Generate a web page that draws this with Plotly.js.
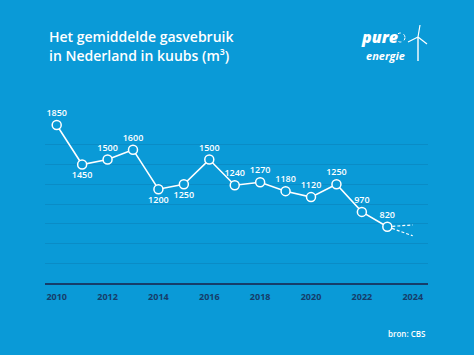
<!DOCTYPE html>
<html>
<head>
<meta charset="utf-8">
<script src="https://cdn.plot.ly/plotly-3.0.1.min.js"></script>
<style>
html,body{margin:0;padding:0;background:#0a9ad7;}
#chart{width:474px;height:355px;}
</style>
</head>
<body>
<div id="chart"></div>
<script>
// Data
const years = [2010, 2011, 2012, 2013, 2014, 2015, 2016, 2017, 2018, 2019, 2020, 2021, 2022, 2023];
const usage = [1850, 1450, 1500, 1600, 1200, 1250, 1500, 1240, 1270, 1180, 1120, 1250, 970, 820];
const labelPos = ['top center','bottom center','top center','top center','bottom center','bottom center','top center','top center','top center','top center','top center','top center','top center','top center'];
const forecastYears = [2023, 2024];
const forecastHigh = [820, 838];
const forecastLow = [820, 728];
const tickYears = [2010, 2012, 2014, 2016, 2018, 2020, 2022, 2024];
const titleLines = ['Het gemiddelde gasvebruik', 'in Nederland in kuubs (m³)'];
const sourceText = 'bron: CBS';

const BG = '#0a9ad7';
const NAVY = '#163d6a';
const GRID = '#0a8cc6';
const FONT = 'Open Sans, sans-serif';

// plot area in pixels
const L = 45, R = 428, T = 125, B = 283;
const W = 474, H = 355;
const px = x => (x - L) / (R - L);
const py = y => (B - y) / (B - T);

const main = {
  x: years, y: usage, type: 'scatter', mode: 'lines+markers+text',
  text: usage.map(String), textposition: labelPos,
  textfont: {family: FONT, size: 9, color: '#ffffff', weight: 600},
  line: {color: '#ffffff', width: 1.6},
  marker: {symbol: 'circle', size: 9, color: BG, line: {color: '#ffffff', width: 1.5}},
  cliponaxis: false, hoverinfo: 'skip'
};
const fHigh = {
  x: forecastYears, y: forecastHigh, type: 'scatter', mode: 'lines',
  line: {color: '#ffffff', width: 1.2, dash: '3px,2px'}, cliponaxis: false, hoverinfo: 'skip'
};
const fLow = {
  x: forecastYears, y: forecastLow, type: 'scatter', mode: 'lines',
  line: {color: '#ffffff', width: 1.2, dash: '3px,2px'}, cliponaxis: false, hoverinfo: 'skip'
};

const annotations = [
  {text: titleLines[0], x: px(47), y: py(36), xref: 'paper', yref: 'paper', xanchor: 'left', yanchor: 'middle', showarrow: false,
   font: {family: FONT, size: 14, color: '#ffffff', weight: 600}},
  {text: titleLines[1], x: px(47), y: py(55), xref: 'paper', yref: 'paper', xanchor: 'left', yanchor: 'middle', showarrow: false,
   font: {family: FONT, size: 14, color: '#ffffff', weight: 600}},
  {text: '<i>pure</i>', x: px(359), y: py(37), xref: 'paper', yref: 'paper', xanchor: 'left', yanchor: 'middle', showarrow: false,
   font: {family: FONT, size: 16, color: '#ffffff', weight: 800}},
  {text: '<i>energie</i>', x: px(364), y: py(56), xref: 'paper', yref: 'paper', xanchor: 'left', yanchor: 'middle', showarrow: false,
   font: {family: FONT, size: 11, color: '#ffffff', weight: 700}},
  {text: sourceText, x: px(428), y: py(333), xref: 'paper', yref: 'paper', xanchor: 'right', yanchor: 'middle', showarrow: false,
   font: {family: FONT, size: 8, color: '#ffffff', weight: 600}}
];

// logo icon: sun + wind turbine
const shapes = [
  {type: 'circle', xref: 'paper', yref: 'paper', x0: px(396), x1: px(405), y0: py(42), y1: py(33),
   line: {color: '#ffffff', width: 1, dash: 'dot'}},
  {type: 'line', xref: 'paper', yref: 'paper', x0: px(418), x1: px(418), y0: py(37), y1: py(61), line: {color: '#ffffff', width: 1.4}},
  {type: 'line', xref: 'paper', yref: 'paper', x0: px(418), x1: px(420), y0: py(37), y1: py(25), line: {color: '#ffffff', width: 1.2}},
  {type: 'line', xref: 'paper', yref: 'paper', x0: px(418), x1: px(408), y0: py(37), y1: py(42), line: {color: '#ffffff', width: 1.2}},
  {type: 'line', xref: 'paper', yref: 'paper', x0: px(418), x1: px(427), y0: py(37), y1: py(44), line: {color: '#ffffff', width: 1.2}}
];

const layout = {
  width: W, height: H,
  margin: {l: L, r: W - R, t: T, b: H - B, pad: 0},
  paper_bgcolor: BG, plot_bgcolor: BG,
  showlegend: false,
  font: {family: FONT, color: '#ffffff'},
  xaxis: {
    range: [2009.54, 2024.6], tickvals: tickYears, ticktext: tickYears.map(String),
    showgrid: false, zeroline: false, showline: true, linecolor: NAVY, linewidth: 2,
    ticks: '', ticklabelstandoff: 4,
    tickfont: {family: FONT, size: 9, color: NAVY, weight: 700}, fixedrange: true
  },
  yaxis: {
    range: [250, 1850], tick0: 250, dtick: 200, showticklabels: false,
    showgrid: true, gridcolor: GRID, gridwidth: 1, zeroline: false, showline: false, ticks: '', fixedrange: true
  },
  annotations: annotations,
  shapes: shapes
};

Plotly.newPlot('chart', [fHigh, fLow, main], layout, {displayModeBar: false, staticPlot: true});
</script>
</body>
</html>
